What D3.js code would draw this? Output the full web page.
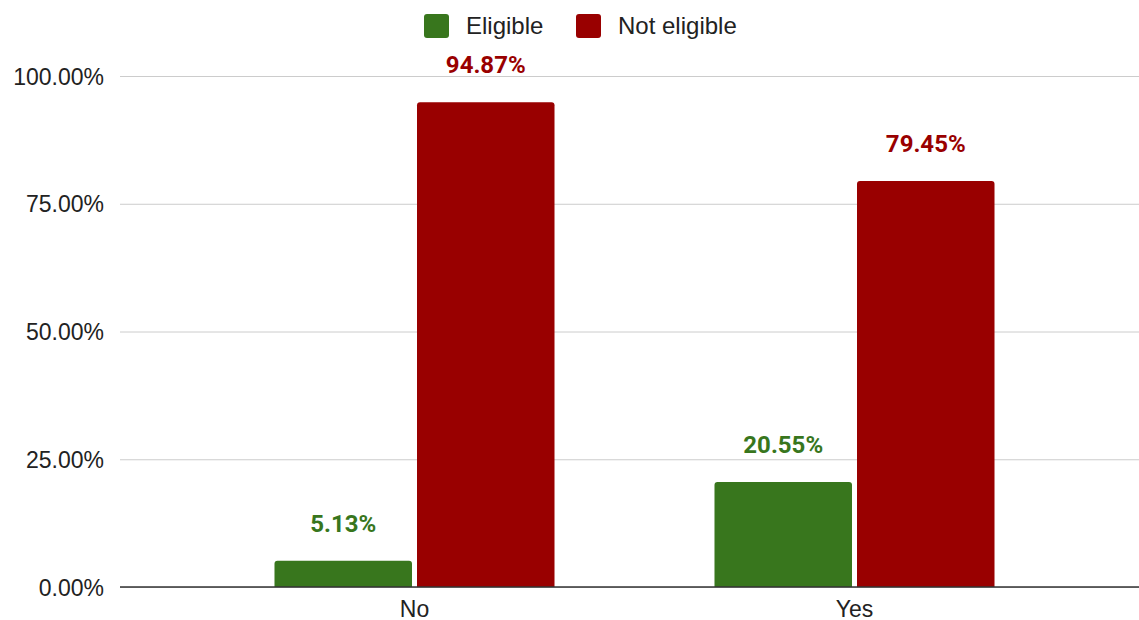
<!DOCTYPE html>
<html><head><meta charset="utf-8">
<script src="https://cdn.jsdelivr.net/npm/d3@7/dist/d3.min.js"></script>
<style>body{margin:0;background:#fff}svg{display:block}</style>
</head><body><svg id="c" width="1139" height="620"></svg>
<script>
const categories = ["No", "Yes"];
const seriesNames = ["Eligible", "Not eligible"];
const eligible = [5.13, 20.55];
const notEligible = [94.87, 79.45];
const yTicks = [0, 25, 50, 75, 100];
const colors = ["#38761d", "#990000"];

const svg = d3.select("#c");
const y = d3.scaleLinear().domain([0, 100]).range([587, 76]);
const x = d3.scaleBand().domain(categories).range([194.5, 1074.5]).paddingInner(0.3636).paddingOuter(0.1818);
const xs = d3.scaleBand().domain(seriesNames).range([0, x.bandwidth()]).paddingInner(0.0351);
const font = "'Liberation Sans', Arial, sans-serif";

// gridlines
const yAxis = d3.axisLeft(y).tickValues(yTicks).tickSize(-(1139 - 120)).tickFormat(d => d.toFixed(2) + "%").tickPadding(16);
const ga = svg.append("g").attr("transform", "translate(120,0)").call(yAxis);
ga.select(".domain").remove();
ga.selectAll(".tick line").attr("stroke", "#cccccc").attr("stroke-width", 1);
ga.selectAll(".tick text").attr("font-family", font).attr("font-size", 23).attr("fill", "#222").attr("dy", "0.35em");

// bars
const data = [];
categories.forEach((c, i) => {
  data.push({cat: c, s: seriesNames[0], v: eligible[i], col: colors[0]});
  data.push({cat: c, s: seriesNames[1], v: notEligible[i], col: colors[1]});
});
svg.append("g").selectAll("path").data(data).join("path")
  .attr("fill", d => d.col)
  .attr("d", d => {
    const x0 = x(d.cat) + xs(d.s), w = xs.bandwidth(), y0 = y(d.v), y1 = y(0), r = 3;
    return `M${x0},${y1}V${y0 + r}Q${x0},${y0} ${x0 + r},${y0}H${x0 + w - r}Q${x0 + w},${y0} ${x0 + w},${y0 + r}V${y1}Z`;
  });

// labels
svg.append("g").selectAll("text").data(data).join("text")
  .attr("x", d => x(d.cat) + xs(d.s) + xs.bandwidth() / 2)
  .attr("y", d => y(d.v) - 29)
  .attr("text-anchor", "middle")
  .attr("font-family", "Roboto, sans-serif")
  .attr("font-weight", "bold")
  .attr("font-size", 24)
  .attr("fill", d => d.col)
  .attr("stroke", "#fff").attr("stroke-width", 4).attr("paint-order", "stroke")
  .text(d => d.v.toFixed(2) + "%");

// x axis labels + baseline
const xAxis = d3.axisBottom(x).tickSize(0).tickPadding(14);
const gx = svg.append("g").attr("transform", `translate(0,${y(0)})`).call(xAxis);
gx.select(".domain").remove();
gx.selectAll(".tick text").attr("font-family", font).attr("font-size", 23).attr("fill", "#222").attr("dy", "0.71em");
svg.append("line").attr("x1", 120).attr("x2", 1139).attr("y1", y(0)).attr("y2", y(0)).attr("stroke", "#333").attr("stroke-width", 1.5);

// legend
const lg = svg.append("g");
const legX = [424, 576];
seriesNames.forEach((s, i) => {
  lg.append("rect").attr("x", legX[i]).attr("y", 14).attr("width", 25).attr("height", 24).attr("rx", 3).attr("fill", colors[i]);
  lg.append("text").attr("x", legX[i] + 42).attr("y", 26).attr("dy", "0.35em")
    .attr("font-family", font).attr("font-size", 24).attr("fill", "#222").text(s);
});
</script></body></html>
